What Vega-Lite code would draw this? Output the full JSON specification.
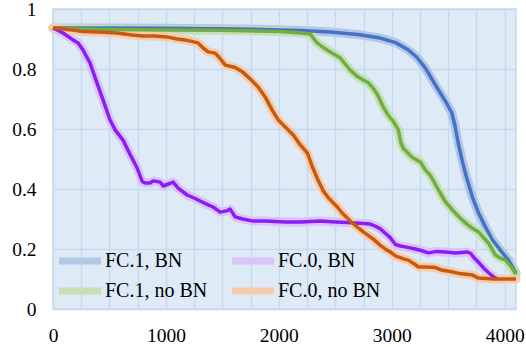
{
  "$schema": "https://vega.github.io/schema/vega-lite/v6.json",
  "width": 463,
  "height": 300,
  "autosize": {"type": "none"},
  "padding": {"left": 53, "top": 9, "right": 10, "bottom": 38},
  "background": "white",
  "config": {
    "font": "Liberation Serif",
    "view": {"fill": "#DEEBF7", "stroke": "#C6DAEF", "strokeWidth": 1.5},
    "axis": {
      "labelFont": "Liberation Serif",
      "labelFontSize": 19.5,
      "labelColor": "#000000",
      "domain": false,
      "ticks": false,
      "gridColor": "#C6DAEF",
      "gridWidth": 1.5,
      "gridOpacity": 1,
      "title": null
    },
    "legend": {
      "labelFont": "Liberation Serif",
      "labelFontSize": 20,
      "labelColor": "#000000"
    }
  },
  "datasets": {
    "curves": [
      {"series": "FC.1, BN", "x": 0, "y": 0.937},
      {"series": "FC.1, BN", "x": 500, "y": 0.937},
      {"series": "FC.1, BN", "x": 1000, "y": 0.936},
      {"series": "FC.1, BN", "x": 1500, "y": 0.934},
      {"series": "FC.1, BN", "x": 1862, "y": 0.932},
      {"series": "FC.1, BN", "x": 2200, "y": 0.928},
      {"series": "FC.1, BN", "x": 2455, "y": 0.923},
      {"series": "FC.1, BN", "x": 2700, "y": 0.915},
      {"series": "FC.1, BN", "x": 2899, "y": 0.903},
      {"series": "FC.1, BN", "x": 3041, "y": 0.887},
      {"series": "FC.1, BN", "x": 3147, "y": 0.863},
      {"series": "FC.1, BN", "x": 3220, "y": 0.84},
      {"series": "FC.1, BN", "x": 3298, "y": 0.803},
      {"series": "FC.1, BN", "x": 3413, "y": 0.73},
      {"series": "FC.1, BN", "x": 3484, "y": 0.687},
      {"series": "FC.1, BN", "x": 3530, "y": 0.655},
      {"series": "FC.1, BN", "x": 3560, "y": 0.61},
      {"series": "FC.1, BN", "x": 3590, "y": 0.55},
      {"series": "FC.1, BN", "x": 3626, "y": 0.49},
      {"series": "FC.1, BN", "x": 3661, "y": 0.44},
      {"series": "FC.1, BN", "x": 3714, "y": 0.373},
      {"series": "FC.1, BN", "x": 3768, "y": 0.32},
      {"series": "FC.1, BN", "x": 3830, "y": 0.273},
      {"series": "FC.1, BN", "x": 3892, "y": 0.23},
      {"series": "FC.1, BN", "x": 3980, "y": 0.187},
      {"series": "FC.1, BN", "x": 4034, "y": 0.163},
      {"series": "FC.1, BN", "x": 4070, "y": 0.14},
      {"series": "FC.1, BN", "x": 4100, "y": 0.12},

      {"series": "FC.1, no BN", "x": 0, "y": 0.935},
      {"series": "FC.1, no BN", "x": 500, "y": 0.932},
      {"series": "FC.1, no BN", "x": 1000, "y": 0.93},
      {"series": "FC.1, no BN", "x": 1500, "y": 0.929},
      {"series": "FC.1, no BN", "x": 2000, "y": 0.925},
      {"series": "FC.1, no BN", "x": 2200, "y": 0.92},
      {"series": "FC.1, no BN", "x": 2278, "y": 0.917},
      {"series": "FC.1, no BN", "x": 2332, "y": 0.89},
      {"series": "FC.1, no BN", "x": 2380, "y": 0.875},
      {"series": "FC.1, no BN", "x": 2455, "y": 0.857},
      {"series": "FC.1, no BN", "x": 2544, "y": 0.837},
      {"series": "FC.1, no BN", "x": 2580, "y": 0.82},
      {"series": "FC.1, no BN", "x": 2630, "y": 0.797},
      {"series": "FC.1, no BN", "x": 2695, "y": 0.775},
      {"series": "FC.1, no BN", "x": 2748, "y": 0.763},
      {"series": "FC.1, no BN", "x": 2790, "y": 0.755},
      {"series": "FC.1, no BN", "x": 2837, "y": 0.735},
      {"series": "FC.1, no BN", "x": 2872, "y": 0.715},
      {"series": "FC.1, no BN", "x": 2925, "y": 0.673},
      {"series": "FC.1, no BN", "x": 2970, "y": 0.645},
      {"series": "FC.1, no BN", "x": 3014, "y": 0.625},
      {"series": "FC.1, no BN", "x": 3058, "y": 0.597},
      {"series": "FC.1, no BN", "x": 3080, "y": 0.555},
      {"series": "FC.1, no BN", "x": 3103, "y": 0.535},
      {"series": "FC.1, no BN", "x": 3182, "y": 0.505},
      {"series": "FC.1, no BN", "x": 3253, "y": 0.49},
      {"series": "FC.1, no BN", "x": 3298, "y": 0.463},
      {"series": "FC.1, no BN", "x": 3342, "y": 0.445},
      {"series": "FC.1, no BN", "x": 3413, "y": 0.397},
      {"series": "FC.1, no BN", "x": 3470, "y": 0.36},
      {"series": "FC.1, no BN", "x": 3537, "y": 0.33},
      {"series": "FC.1, no BN", "x": 3600, "y": 0.305},
      {"series": "FC.1, no BN", "x": 3652, "y": 0.287},
      {"series": "FC.1, no BN", "x": 3710, "y": 0.27},
      {"series": "FC.1, no BN", "x": 3768, "y": 0.257},
      {"series": "FC.1, no BN", "x": 3820, "y": 0.235},
      {"series": "FC.1, no BN", "x": 3856, "y": 0.22},
      {"series": "FC.1, no BN", "x": 3918, "y": 0.18},
      {"series": "FC.1, no BN", "x": 3960, "y": 0.17},
      {"series": "FC.1, no BN", "x": 4007, "y": 0.163},
      {"series": "FC.1, no BN", "x": 4060, "y": 0.14},
      {"series": "FC.1, no BN", "x": 4100, "y": 0.115},

      {"series": "FC.0, BN", "x": 0, "y": 0.937},
      {"series": "FC.0, BN", "x": 89, "y": 0.92},
      {"series": "FC.0, BN", "x": 177, "y": 0.897},
      {"series": "FC.0, BN", "x": 222, "y": 0.887},
      {"series": "FC.0, BN", "x": 266, "y": 0.863},
      {"series": "FC.0, BN", "x": 328, "y": 0.82},
      {"series": "FC.0, BN", "x": 390, "y": 0.753},
      {"series": "FC.0, BN", "x": 443, "y": 0.697},
      {"series": "FC.0, BN", "x": 505, "y": 0.63},
      {"series": "FC.0, BN", "x": 550, "y": 0.597},
      {"series": "FC.0, BN", "x": 620, "y": 0.563},
      {"series": "FC.0, BN", "x": 683, "y": 0.515},
      {"series": "FC.0, BN", "x": 745, "y": 0.47},
      {"series": "FC.0, BN", "x": 790, "y": 0.425},
      {"series": "FC.0, BN", "x": 816, "y": 0.42},
      {"series": "FC.0, BN", "x": 860, "y": 0.42},
      {"series": "FC.0, BN", "x": 887, "y": 0.427},
      {"series": "FC.0, BN", "x": 949, "y": 0.423},
      {"series": "FC.0, BN", "x": 976, "y": 0.41},
      {"series": "FC.0, BN", "x": 1010, "y": 0.415},
      {"series": "FC.0, BN", "x": 1064, "y": 0.423},
      {"series": "FC.0, BN", "x": 1108, "y": 0.403},
      {"series": "FC.0, BN", "x": 1188, "y": 0.38},
      {"series": "FC.0, BN", "x": 1250, "y": 0.37},
      {"series": "FC.0, BN", "x": 1303, "y": 0.36},
      {"series": "FC.0, BN", "x": 1374, "y": 0.347},
      {"series": "FC.0, BN", "x": 1418, "y": 0.34},
      {"series": "FC.0, BN", "x": 1480, "y": 0.323},
      {"series": "FC.0, BN", "x": 1545, "y": 0.328},
      {"series": "FC.0, BN", "x": 1569, "y": 0.333},
      {"series": "FC.0, BN", "x": 1613, "y": 0.307},
      {"series": "FC.0, BN", "x": 1680, "y": 0.3},
      {"series": "FC.0, BN", "x": 1773, "y": 0.293},
      {"series": "FC.0, BN", "x": 1879, "y": 0.293},
      {"series": "FC.0, BN", "x": 2057, "y": 0.29},
      {"series": "FC.0, BN", "x": 2200, "y": 0.29},
      {"series": "FC.0, BN", "x": 2367, "y": 0.293},
      {"series": "FC.0, BN", "x": 2500, "y": 0.29},
      {"series": "FC.0, BN", "x": 2606, "y": 0.288},
      {"series": "FC.0, BN", "x": 2750, "y": 0.285},
      {"series": "FC.0, BN", "x": 2810, "y": 0.283},
      {"series": "FC.0, BN", "x": 2860, "y": 0.275},
      {"series": "FC.0, BN", "x": 2899, "y": 0.267},
      {"series": "FC.0, BN", "x": 2950, "y": 0.25},
      {"series": "FC.0, BN", "x": 2988, "y": 0.237},
      {"series": "FC.0, BN", "x": 3032, "y": 0.215},
      {"series": "FC.0, BN", "x": 3076, "y": 0.21},
      {"series": "FC.0, BN", "x": 3120, "y": 0.207},
      {"series": "FC.0, BN", "x": 3209, "y": 0.2},
      {"series": "FC.0, BN", "x": 3260, "y": 0.195},
      {"series": "FC.0, BN", "x": 3324, "y": 0.187},
      {"series": "FC.0, BN", "x": 3400, "y": 0.192},
      {"series": "FC.0, BN", "x": 3475, "y": 0.19},
      {"series": "FC.0, BN", "x": 3564, "y": 0.187},
      {"series": "FC.0, BN", "x": 3670, "y": 0.19},
      {"series": "FC.0, BN", "x": 3700, "y": 0.185},
      {"series": "FC.0, BN", "x": 3723, "y": 0.173},
      {"series": "FC.0, BN", "x": 3770, "y": 0.155},
      {"series": "FC.0, BN", "x": 3812, "y": 0.137},
      {"series": "FC.0, BN", "x": 3860, "y": 0.12},
      {"series": "FC.0, BN", "x": 3900, "y": 0.107},
      {"series": "FC.0, BN", "x": 3936, "y": 0.1},

      {"series": "FC.0, no BN", "x": 0, "y": 0.937},
      {"series": "FC.0, no BN", "x": 100, "y": 0.933},
      {"series": "FC.0, no BN", "x": 266, "y": 0.925},
      {"series": "FC.0, no BN", "x": 400, "y": 0.923},
      {"series": "FC.0, no BN", "x": 567, "y": 0.92},
      {"series": "FC.0, no BN", "x": 700, "y": 0.913},
      {"series": "FC.0, no BN", "x": 798, "y": 0.91},
      {"series": "FC.0, no BN", "x": 900, "y": 0.91},
      {"series": "FC.0, no BN", "x": 1010, "y": 0.907},
      {"series": "FC.0, no BN", "x": 1100, "y": 0.9},
      {"series": "FC.0, no BN", "x": 1170, "y": 0.897},
      {"series": "FC.0, no BN", "x": 1285, "y": 0.887},
      {"series": "FC.0, no BN", "x": 1330, "y": 0.87},
      {"series": "FC.0, no BN", "x": 1374, "y": 0.857},
      {"series": "FC.0, no BN", "x": 1436, "y": 0.853},
      {"series": "FC.0, no BN", "x": 1480, "y": 0.835},
      {"series": "FC.0, no BN", "x": 1525, "y": 0.813},
      {"series": "FC.0, no BN", "x": 1613, "y": 0.805},
      {"series": "FC.0, no BN", "x": 1680, "y": 0.79},
      {"series": "FC.0, no BN", "x": 1729, "y": 0.773},
      {"series": "FC.0, no BN", "x": 1817, "y": 0.74},
      {"series": "FC.0, no BN", "x": 1879, "y": 0.707},
      {"series": "FC.0, no BN", "x": 1941, "y": 0.663},
      {"series": "FC.0, no BN", "x": 1995, "y": 0.63},
      {"series": "FC.0, no BN", "x": 2057, "y": 0.607},
      {"series": "FC.0, no BN", "x": 2128, "y": 0.58},
      {"series": "FC.0, no BN", "x": 2190, "y": 0.547},
      {"series": "FC.0, no BN", "x": 2252, "y": 0.52},
      {"series": "FC.0, no BN", "x": 2296, "y": 0.475},
      {"series": "FC.0, no BN", "x": 2340, "y": 0.435},
      {"series": "FC.0, no BN", "x": 2394, "y": 0.393},
      {"series": "FC.0, no BN", "x": 2440, "y": 0.37},
      {"series": "FC.0, no BN", "x": 2518, "y": 0.34},
      {"series": "FC.0, no BN", "x": 2560, "y": 0.32},
      {"series": "FC.0, no BN", "x": 2633, "y": 0.293},
      {"series": "FC.0, no BN", "x": 2695, "y": 0.273},
      {"series": "FC.0, no BN", "x": 2748, "y": 0.257},
      {"series": "FC.0, no BN", "x": 2784, "y": 0.247},
      {"series": "FC.0, no BN", "x": 2840, "y": 0.232},
      {"series": "FC.0, no BN", "x": 2899, "y": 0.212},
      {"series": "FC.0, no BN", "x": 2950, "y": 0.198},
      {"series": "FC.0, no BN", "x": 2988, "y": 0.19},
      {"series": "FC.0, no BN", "x": 3032, "y": 0.177},
      {"series": "FC.0, no BN", "x": 3103, "y": 0.167},
      {"series": "FC.0, no BN", "x": 3147, "y": 0.163},
      {"series": "FC.0, no BN", "x": 3200, "y": 0.15},
      {"series": "FC.0, no BN", "x": 3236, "y": 0.14},
      {"series": "FC.0, no BN", "x": 3300, "y": 0.14},
      {"series": "FC.0, no BN", "x": 3386, "y": 0.138},
      {"series": "FC.0, no BN", "x": 3440, "y": 0.13},
      {"series": "FC.0, no BN", "x": 3519, "y": 0.125},
      {"series": "FC.0, no BN", "x": 3600, "y": 0.118},
      {"series": "FC.0, no BN", "x": 3714, "y": 0.113},
      {"series": "FC.0, no BN", "x": 3768, "y": 0.103},
      {"series": "FC.0, no BN", "x": 3900, "y": 0.1},
      {"series": "FC.0, no BN", "x": 4100, "y": 0.1}
    ]
  },
  "data": {"name": "curves"},
  "encoding": {
    "x": {
      "field": "x",
      "type": "quantitative",
      "scale": {"domain": [0, 4100], "nice": false, "zero": false},
      "axis": {
        "values": [0, 250, 500, 750, 1000, 1250, 1500, 1750, 2000, 2250, 2500, 2750, 3000, 3250, 3500, 3750, 4000],
        "labelExpr": "datum.value % 1000 === 0 ? format(datum.value, 'd') : ''",
        "labelOverlap": false,
        "labelPadding": 17,
        "labelFlush": false
      }
    },
    "y": {
      "field": "y",
      "type": "quantitative",
      "scale": {"domain": [0, 1], "nice": false},
      "axis": {
        "values": [0, 0.2, 0.4, 0.6, 0.8, 1],
        "format": "~g",
        "labelPadding": 17
      }
    }
  },
  "layer": [
    {
      "mark": {"type": "line", "strokeWidth": 9, "strokeCap": "round", "strokeJoin": "round", "opacity": 1},
      "encoding": {
        "color": {
          "field": "series",
          "type": "nominal",
          "scale": {
            "domain": ["FC.1, BN", "FC.1, no BN", "FC.0, BN", "FC.0, no BN"],
            "range": ["#B4C7E7", "#C5E0B4", "#D9C4F8", "#F8CBAD"]
          },
          "legend": {
            "title": null,
            "orient": "none",
            "legendX": 2,
            "legendY": 242,
            "columns": 2,
            "padding": 0,
            "symbolType": "M-1,0H6",
            "symbolSize": 144,
            "symbolStrokeWidth": 7,
            "labelOffset": 30,
            "columnPadding": 10,
            "rowPadding": 2,
            "labelFontSize": 20,
            "encode": {"symbols": {"update": {"strokeCap": {"value": "round"}, "fill": {"value": "transparent"}}}}
          }
        },
        "order": {"field": "x", "type": "quantitative"}
      }
    },
    {
      "mark": {"type": "line", "strokeWidth": 3.5, "strokeJoin": "round"},
      "encoding": {
        "color": {
          "field": "series",
          "type": "nominal",
          "scale": {
            "domain": ["FC.1, BN", "FC.1, no BN", "FC.0, BN", "FC.0, no BN"],
            "range": ["#4472C4", "#70AD47", "#8B1CF8", "#C55A11"]
          },
          "legend": null
        },
        "order": {"field": "x", "type": "quantitative"}
      }
    }
  ],
  "resolve": {"scale": {"color": "independent"}}
}
